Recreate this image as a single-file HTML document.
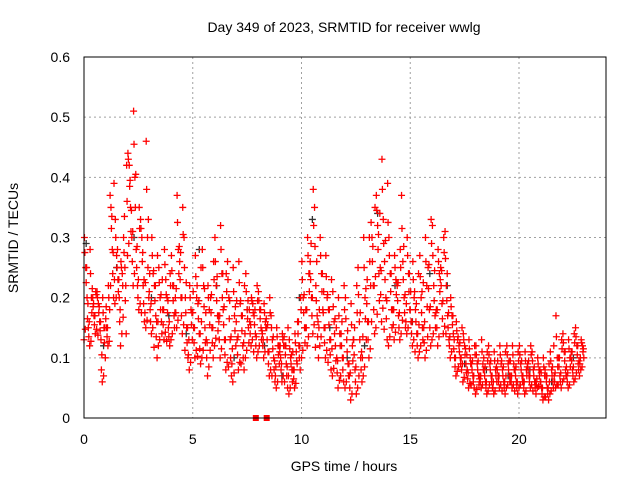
<!DOCTYPE html>
<html><head><meta charset="utf-8"><style>
body{margin:0;background:#fff;}
svg{display:block;font-family:"Liberation Sans",sans-serif;}
</style></head><body>
<svg id="chart" width="640" height="480">
<text x="344" y="32" font-size="14" text-anchor="middle">Day 349 of 2023, SRMTID for receiver wwlg</text>
<text transform="translate(18,238) rotate(-90)" font-size="14" text-anchor="middle">SRMTID / TECUs</text>
<text x="344" y="471" font-size="14" text-anchor="middle">GPS time / hours</text>
<g id="grid"></g><g id="black"></g><g id="red"></g><g id="axes"></g>
</svg>
<script>
const xTicks=[0,5,10,15,20];
const yTicks=[0,0.1,0.2,0.3,0.4,0.5,0.6];
const yTickLabels=["0","0.1","0.2","0.3","0.4","0.5","0.6"];
const hours=[0,0.2,0.4,0.6,0.8,1,1.2,1.4,1.6,1.8,2,2.2,2.4,2.6,2.8,3,3.2,3.4,3.6,3.8,4,4.2,4.4,4.6,4.8,5,5.2,5.4,5.6,5.8,6,6.2,6.4,6.6,6.8,7,7.2,7.4,7.6,7.8,8,8.2,8.4,8.6,8.8,9,9.2,9.4,9.6,9.8,10,10.2,10.4,10.6,10.8,11,11.2,11.4,11.6,11.8,12,12.2,12.4,12.6,12.8,13,13.2,13.4,13.6,13.8,14,14.2,14.4,14.6,14.8,15,15.2,15.4,15.6,15.8,16,16.2,16.4,16.6,16.8,17,17.2,17.4,17.6,17.8,18,18.2,18.4,18.6,18.8,19,19.2,19.4,19.6,19.8,20,20.2,20.4,20.6,20.8,21,21.2,21.4,21.6,21.8,22,22.2,22.4,22.6,22.8];
const redLow=[.13,.12,.14,.13,.06,.12,.2,.19,.12,.14,.27,.22,.18,.16,.15,.14,.1,.12,.13,.12,.13,.15,.14,.1,.08,.1,.09,.1,.07,.1,.12,.1,.08,.07,.06,.08,.08,.1,.12,.1,.11,.1,.07,.06,.05,.06,.05,.04,.05,.08,.1,.12,.14,.1,.12,.1,.08,.07,.05,.06,.05,.03,.04,.06,.07,.1,.14,.15,.16,.13,.12,.13,.13,.15,.14,.12,.1,.11,.1,.12,.13,.12,.14,.13,.1,.07,.08,.06,.05,.05,.04,.05,.04,.05,.04,.05,.04,.05,.05,.04,.05,.04,.05,.04,.05,.03,.03,.04,.05,.05,.06,.05,.06,.07,.08];
const redA=[.2,.15,.17,.16,.1,.15,.28,.23,.2,.25,.35,.3,.22,.22,.2,.18,.17,.16,.18,.15,.17,.2,.2,.15,.13,.15,.14,.15,.13,.15,.17,.16,.13,.13,.12,.13,.12,.15,.16,.14,.15,.14,.11,.1,.09,.1,.09,.08,.08,.12,.15,.18,.2,.17,.18,.15,.13,.12,.1,.1,.09,.07,.08,.1,.13,.16,.22,.24,.25,.2,.18,.18,.17,.2,.18,.16,.14,.15,.15,.18,.17,.18,.19,.17,.14,.1,.1,.09,.08,.07,.07,.07,.06,.07,.06,.07,.06,.07,.07,.06,.07,.06,.07,.06,.06,.05,.05,.06,.07,.07,.08,.07,.08,.09,.1];
const redB=[.25,.2,.2,.19,.15,.18,.35,.27,.24,.3,.42,.4,.28,.3,.3,.24,.22,.2,.23,.2,.22,.28,.26,.2,.18,.2,.19,.22,.18,.2,.22,.24,.18,.2,.17,.19,.17,.18,.19,.17,.18,.16,.15,.13,.12,.12,.12,.1,.11,.16,.2,.24,.26,.22,.24,.2,.18,.16,.14,.14,.13,.12,.13,.16,.2,.22,.3,.32,.33,.26,.24,.23,.22,.26,.24,.2,.18,.2,.22,.25,.22,.24,.25,.22,.17,.13,.12,.12,.1,.09,.09,.09,.08,.09,.08,.09,.08,.09,.09,.08,.09,.08,.09,.08,.08,.07,.07,.08,.1,.1,.11,.1,.11,.12,.12];
const redHigh=[.3,.28,.21,.21,.2,.22,.39,.33,.26,.42,.44,.51,.35,.33,.46,.3,.27,.25,.28,.24,.27,.37,.35,.3,.22,.27,.25,.28,.22,.26,.3,.32,.24,.26,.25,.26,.22,.24,.2,.22,.21,.19,.2,.17,.15,.14,.15,.13,.14,.2,.26,.3,.38,.35,.3,.27,.23,.21,.2,.22,.2,.19,.22,.25,.3,.3,.35,.37,.43,.39,.3,.27,.28,.37,.3,.26,.24,.27,.3,.33,.32,.28,.3,.31,.2,.16,.15,.14,.13,.12,.12,.13,.11,.12,.11,.12,.11,.12,.12,.11,.12,.11,.12,.11,.1,.1,.09,.11,.17,.13,.14,.13,.14,.15,.13];
const blackHours=[0.1,0.9,1.5,2.3,3.1,3.9,4.7,5.3,6.1,6.9,7.5,8.3,9.1,9.9,10.5,11.3,12.1,12.9,13.5,14.3,15.1,15.9,16.7,17.5,18.5,19.5,20.5,21.5,22.5];
const blackVals=[.29,.12,.25,.3,.2,.17,.14,.28,.22,.1,.18,.12,.07,.2,.33,.15,.1,.12,.34,.22,.16,.24,.22,.09,.08,.07,.08,.06,.1];
const zeroHours=[7.9,8.4];

const X0=84,X1=606,Y0=418,Y1=57;
const xs=h=>X0+h*(X1-X0)/24;
const ys=v=>Y0-v*(Y0-Y1)/0.6;
const NS="http://www.w3.org/2000/svg";
function mk(tag,attrs,parent){const e=document.createElementNS(NS,tag);for(const k in attrs)e.setAttribute(k,attrs[k]);parent.appendChild(e);return e;}
const grid=document.getElementById('grid'),axes=document.getElementById('axes');
xTicks.forEach(t=>{
  if(t>0){const l=mk('line',{x1:xs(t),x2:xs(t),y1:Y1,y2:Y0,stroke:'#a0a0a0','stroke-dasharray':'2,3'},grid);
  
  }
  const tl=mk('text',{x:xs(t),y:Y0+26,'font-size':14,'text-anchor':'middle'},axes);tl.textContent=t;
  
  
});
yTicks.forEach((t,i)=>{
  if(t>0&&t<0.6){const l=mk('line',{x1:X0,x2:X1,y1:ys(t),y2:ys(t),stroke:'#a0a0a0','stroke-dasharray':'2,3'},grid);
  
  }
  const tl=mk('text',{x:X0-14,y:ys(t)+5,'font-size':14,'text-anchor':'end'},axes);tl.textContent=yTickLabels[i];
  
  
});
const frame=mk('rect',{x:X0,y:Y1,width:X1-X0,height:Y0-Y1,fill:'none',stroke:'#000','stroke-width':1},axes);


function plus(g,h,v,col,name){
  const x=xs(h),y=ys(v);
  const p=mk('path',{d:`M${x-3.5} ${y}H${x+3.5}M${x} ${y-3.5}V${y+3.5}`,stroke:col,'stroke-width':1.3,fill:'none'},g);
  
  
}
const bg=document.getElementById('black'),rg=document.getElementById('red');
blackHours.forEach((h,i)=>plus(bg,h,blackVals[i],'#333','black-point'));
hours.forEach((h,i)=>{
  const lo=redLow[i],a=redA[i],b=redB[i],hi=redHigh[i];
  const vals=[lo,a,b,hi,(lo+a)/2,(a+b)/2,(b+hi)/2,(lo+b)/2,(a+hi)/2,(lo*3+a)/4];
  const n=vals.length;
  vals.forEach((v,j)=>{
    const slot=(j*7+i*3)%n;
    plus(rg,h+slot*0.2/n,v,'#f00','red-point');
  });
});
zeroHours.forEach(h=>{
  const r=mk('rect',{x:xs(h)-3,y:Y0-3,width:6,height:6,fill:'#f00'},rg);
  
  
});
</script>
</body></html>
